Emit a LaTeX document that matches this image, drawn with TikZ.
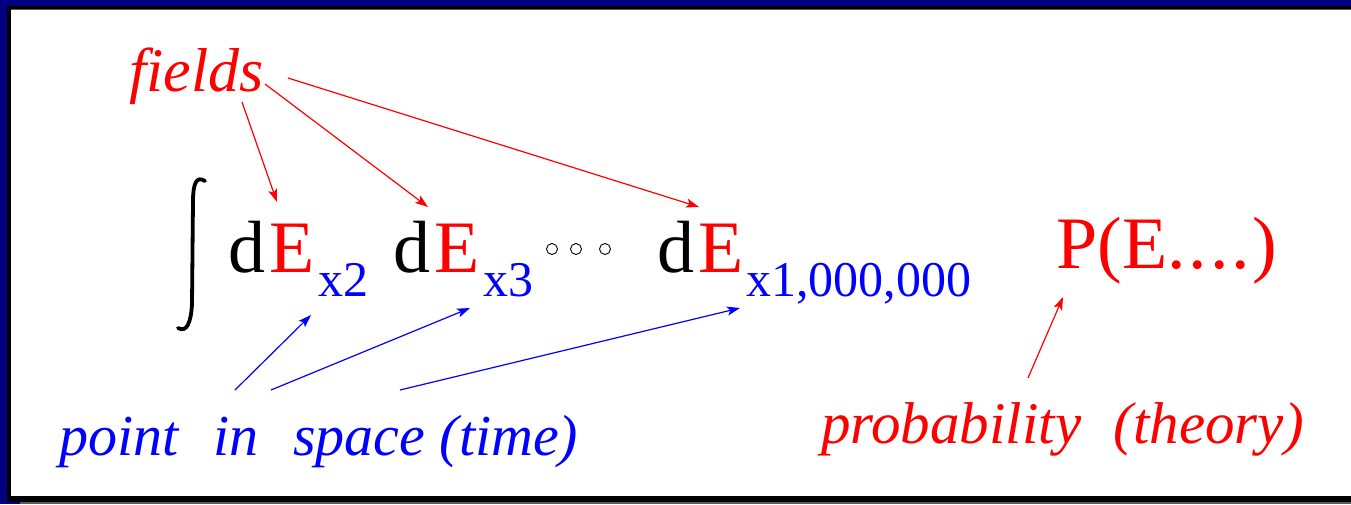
\documentclass[tikz,border=0pt]{standalone}
\usepackage{fontspec}
\setmainfont{Liberation Serif}
\usetikzlibrary{arrows.meta}
\definecolor{navy}{HTML}{000080}
\definecolor{edgegray}{HTML}{5A5A5A}
\begin{document}
\begin{tikzpicture}[x=1pt,y=-1pt,
  lbl/.style={anchor=base west,inner sep=0pt},
  itred/.style={lbl,text=red,font=\fontsize{59}{60}\selectfont\itshape},
  itblue/.style={lbl,text=blue,font=\fontsize{58}{60}\selectfont\itshape},
  big/.style={lbl,font=\fontsize{74}{78}\selectfont},
  sub/.style={lbl,text=blue,font=\fontsize{50}{52}\selectfont},
  redarr/.style={draw=red,line width=1.2pt,-{Stealth[length=13pt,width=9pt,inset=3pt]}},
  bluearr/.style={draw=blue,line width=1.2pt,-{Stealth[length=13pt,width=9pt,inset=3pt]}},
  dotc/.style={draw=black,line width=0.9pt}]
% frame
\fill[navy] (0,0) rectangle (1351,504);
\fill[black] (7,6) rectangle (1351,502);
\fill[edgegray] (20,502) rectangle (1351,504);
\fill[edgegray] (11,9.2) rectangle (1351,10.2);
\fill[white] (11,10.2) rectangle (1351,496);
\useasboundingbox (0,0) rectangle (1351,504);
% integral sign
\draw[line width=3.8pt,line cap=round] (205,181) .. controls (196,175) and (193,185) .. (193,201) -- (192,304) .. controls (191,322) and (187,333) .. (178,328);
% labels
\node[itred,font=\fontsize{62}{64}\selectfont\itshape] (fields) at (129,91) {fields};
\node[big] (d1) at (228,272) {d\hspace{4pt}\textcolor{red}{E}};
\node[sub] (s1) at (318,296) {x2};
\node[big] (d2) at (393,272) {d\hspace{4pt}\textcolor{red}{E}};
\node[sub] (s2) at (483,296) {x3};
\node[dotc,circle,minimum size=11pt,inner sep=0pt] (c1) at (552,249) {};
\node[dotc,circle,minimum size=11pt,inner sep=0pt] (c2) at (576,249) {};
\node[dotc,circle,minimum size=11pt,inner sep=0pt] (c3) at (605,249) {};
\node[big] (d3) at (657,272) {d\hspace{4pt}\textcolor{red}{E}};
\node[sub] (s3) at (746,296) {x1,000,000};
\node[lbl,text=red,font=\fontsize{74}{78}\selectfont] (pe) at (1056,268) {P(E.\hspace{3pt}.\hspace{3pt}.\hspace{3pt}.\hspace{2pt})};
\node[itblue] (point) at (59,455) {point\hspace{0.35em} in\hspace{0.35em} space (time)};
\node[itred] (prob) at (821,443) {probability\hspace{0.3em} (theory)};
% connector ends
\coordinate (f1s) at (242,102);
\coordinate (f1e) at (277,202);
\coordinate (f2s) at (265,84);
\coordinate (f2e) at (428,207);
\coordinate (f3s) at (288,78);
\coordinate (f3e) at (699,207);
\coordinate (p1s) at (235,390);
\coordinate (p1e) at (311,315);
\coordinate (p2s) at (271,390);
\coordinate (p2e) at (470,308);
\coordinate (p3s) at (400,390);
\coordinate (p3e) at (740,308);
\coordinate (prs) at (1028,378);
\coordinate (pre) at (1063,297);
% connectors
\draw[redarr] (f1s) -- (f1e);
\draw[redarr] (f2s) -- (f2e);
\draw[redarr] (f3s) -- (f3e);
\draw[bluearr] (p1s) -- (p1e);
\draw[bluearr] (p2s) -- (p2e);
\draw[bluearr] (p3s) -- (p3e);
\draw[redarr] (prs) -- (pre);
\end{tikzpicture}
\end{document}
